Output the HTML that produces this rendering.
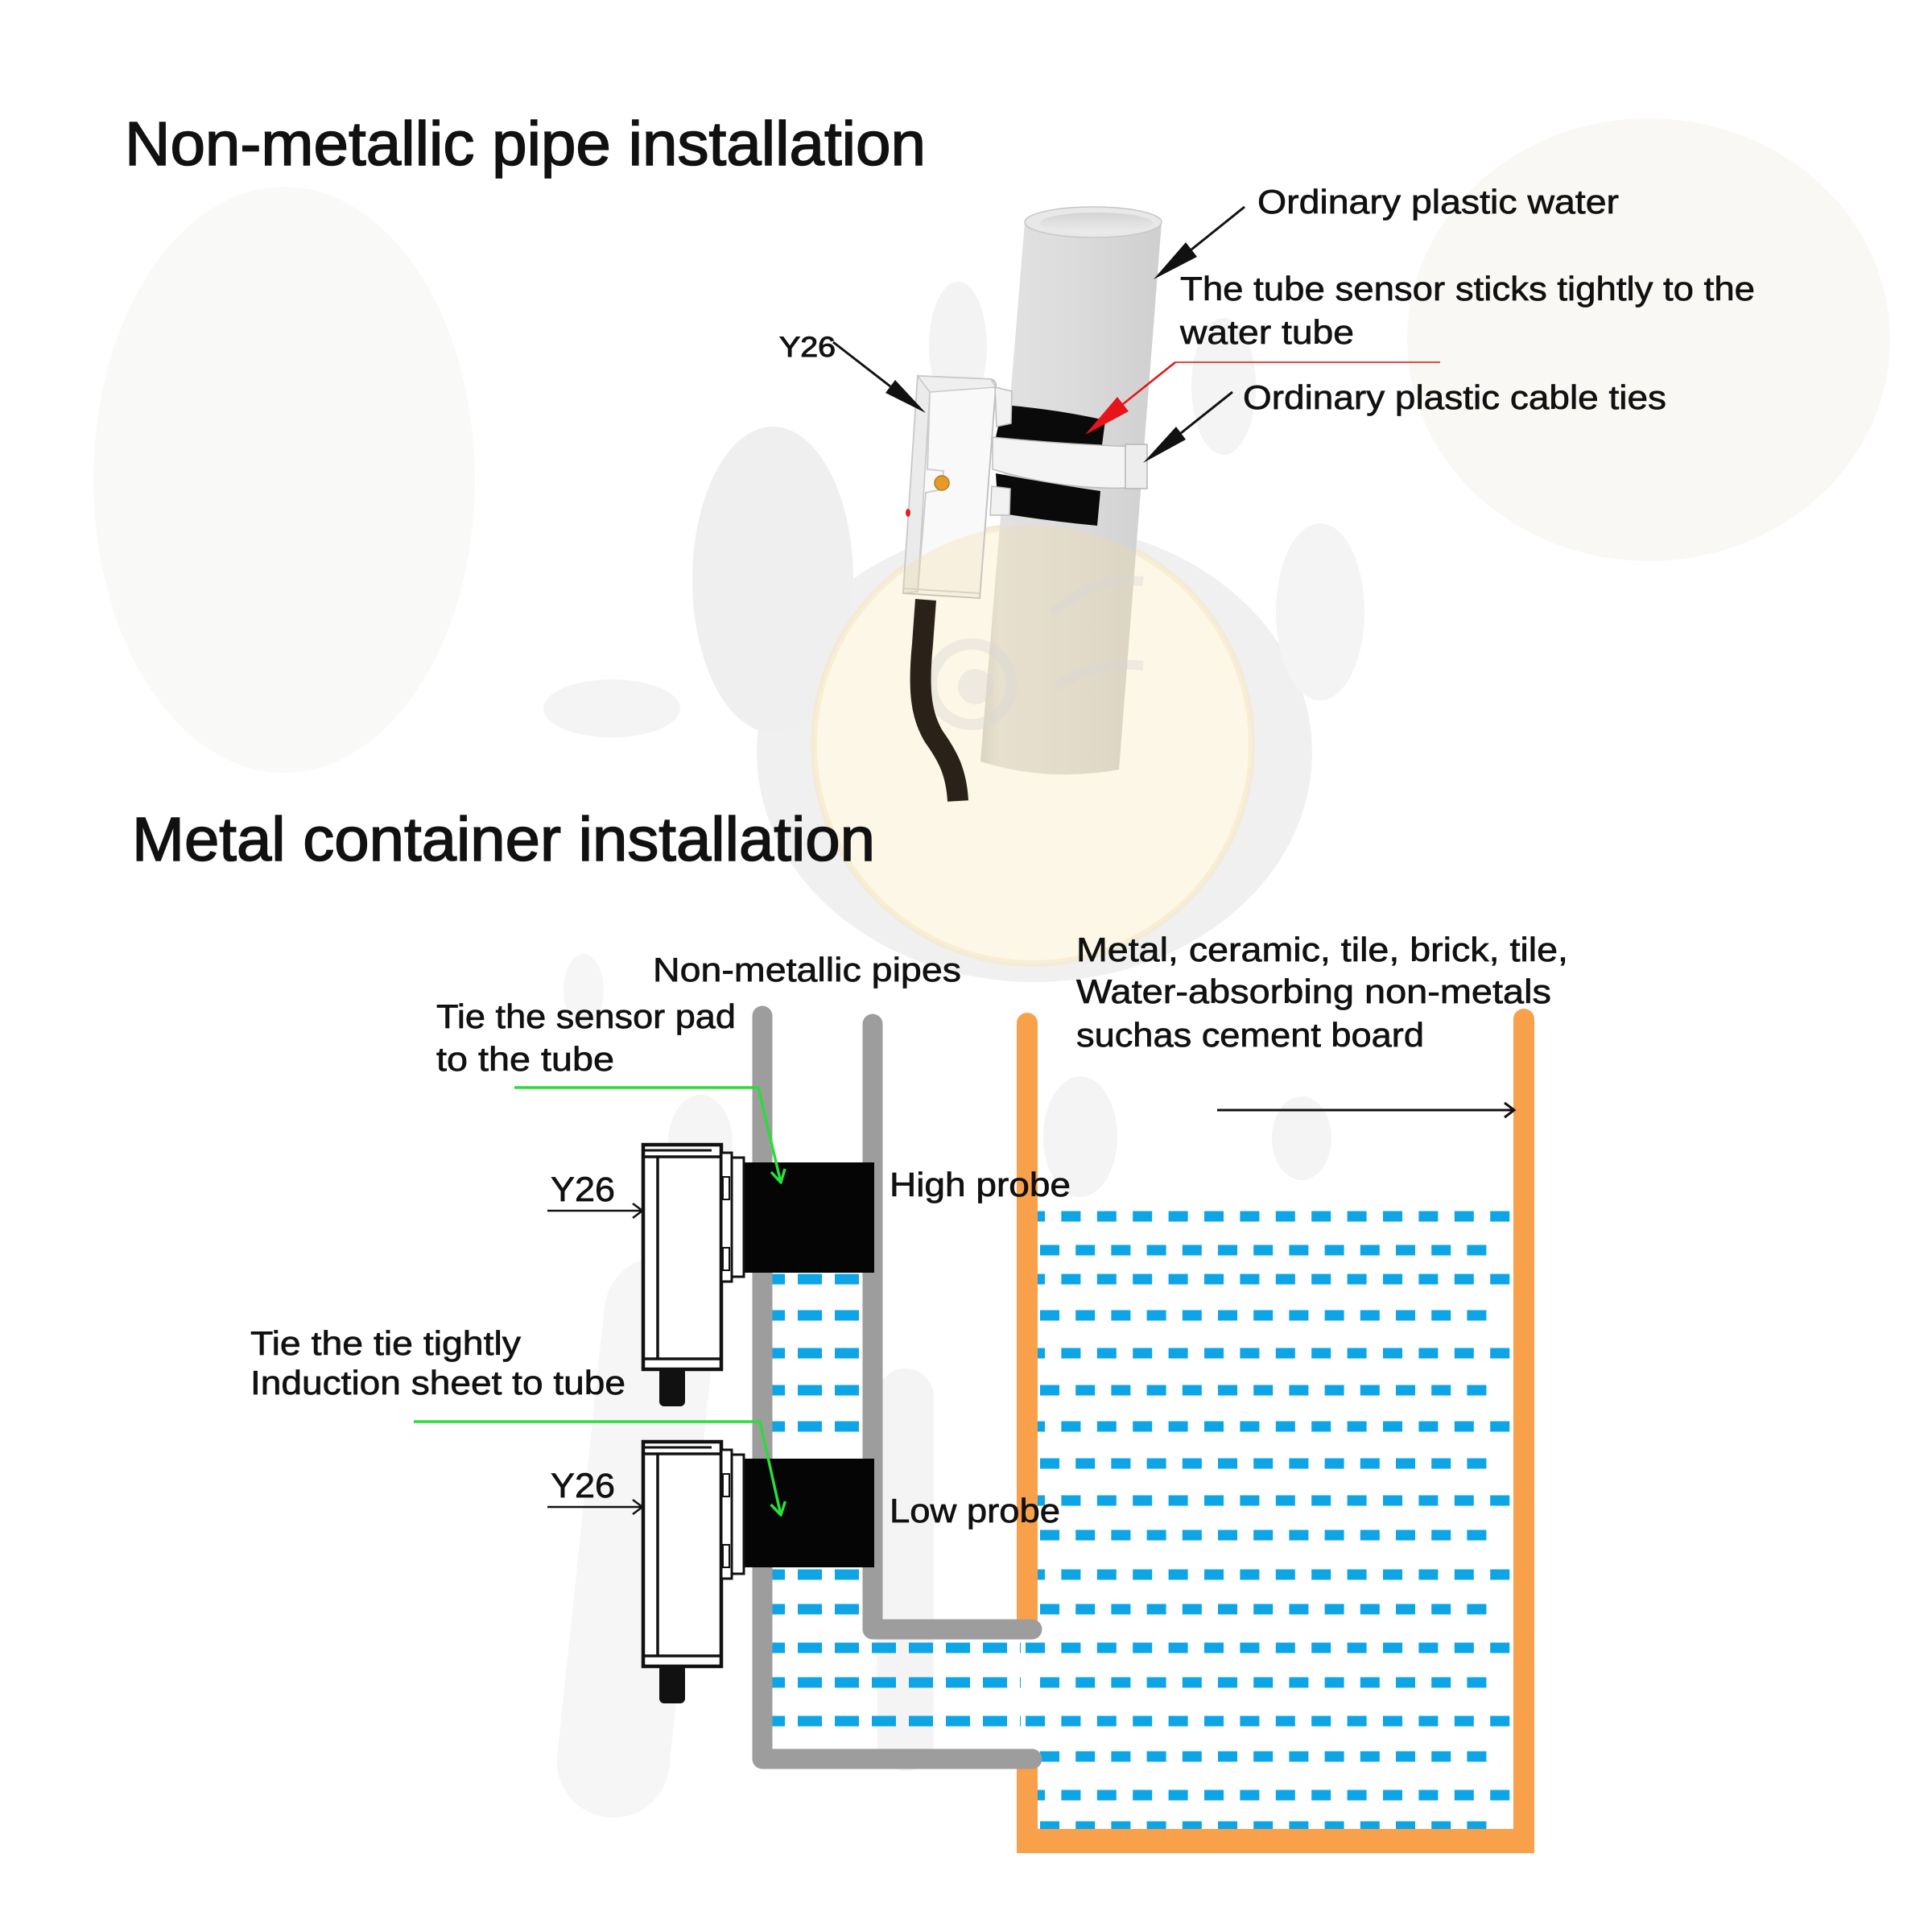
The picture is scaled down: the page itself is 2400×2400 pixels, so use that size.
<!DOCTYPE html>
<html><head><meta charset="utf-8">
<style>
html,body{margin:0;padding:0;background:#fff;}
svg{display:block;}
text{font-family:"Liberation Sans",sans-serif;fill:#111;stroke:#111;stroke-width:0.7;}
text.h{stroke-width:1.6;}
</style></head><body>
<svg width="2400" height="2400" viewBox="0 0 2400 2400" xmlns="http://www.w3.org/2000/svg">
<defs>
 <linearGradient id="pipeG" x1="0" y1="0" x2="1" y2="0">
  <stop offset="0" stop-color="#d2d2d2"/>
  <stop offset="0.1" stop-color="#e2e2e2"/>
  <stop offset="0.5" stop-color="#dcdcdc"/>
  <stop offset="1" stop-color="#cfcfcf"/>
 </linearGradient>
 <linearGradient id="holeG" x1="0" y1="0" x2="0" y2="1">
  <stop offset="0" stop-color="#d4d4d4"/>
  <stop offset="1" stop-color="#ececec"/>
 </linearGradient>
 <clipPath id="objClip">
  <path d="M1273,276 L1218,946 Q1300,972 1390,956 L1443,276 Z"/>
  <path d="M1140,467 L1231,471 Q1238,473 1237,481 L1217,743 L1122,737 Z"/>
 </clipPath>
</defs>
<rect width="2400" height="2400" fill="#fff"/>

<!-- faint watermark background -->
<ellipse cx="353" cy="596" rx="237" ry="364" fill="#f9f9f7"/>
<ellipse cx="2048" cy="422" rx="300" ry="275" fill="#f9f8f5"/>
<ellipse cx="1285" cy="935" rx="345" ry="285" fill="#f0f0f0"/>
<ellipse cx="960" cy="720" rx="100" ry="190" fill="#efefef"/>
<ellipse cx="760" cy="880" rx="85" ry="36" fill="#f4f4f4"/>
<ellipse cx="1190" cy="430" rx="36" ry="80" fill="#f3f3f3"/>
<ellipse cx="1520" cy="480" rx="40" ry="85" fill="#f4f4f4"/>
<ellipse cx="1640" cy="760" rx="55" ry="110" fill="#f4f4f4"/>
<rect x="720" y="1560" width="140" height="700" rx="70" fill="#f6f6f6" transform="rotate(6 795 1920)"/>
<rect x="1090" y="1700" width="70" height="500" rx="35" fill="#f4f4f4"/>
<ellipse cx="1342" cy="1412" rx="46" ry="75" fill="#f4f4f4"/>
<ellipse cx="1617" cy="1414" rx="37" ry="52" fill="#f4f4f4"/>
<ellipse cx="870" cy="1420" rx="40" ry="60" fill="#f5f5f5"/>
<ellipse cx="725" cy="1230" rx="25" ry="45" fill="#f6f6f6"/>
<!-- cream circle -->
<circle cx="1283" cy="925" r="272" fill="#fdf7e7"/>
<circle cx="1283" cy="925" r="272" fill="none" stroke="#f6e6c0" stroke-width="8" opacity="0.5"/>

<!-- ===== Top: pipe photo ===== -->
<path d="M1273,276 L1218,946 Q1300,972 1390,956 L1443,276 Z" fill="url(#pipeG)"/>
<ellipse cx="1358" cy="276" rx="85" ry="19" fill="#e8e8e8" stroke="#c6c6c6" stroke-width="1.5"/>
<ellipse cx="1362" cy="277" rx="70" ry="13" fill="url(#holeG)"/>
<path d="M1246,503 Q1310,508 1373,522 L1367,568 Q1300,556 1237,543 Z" fill="#0a0a0a"/>
<path d="M1233,543 Q1330,553 1420,555 L1420,605 Q1330,612 1233,583 Z" fill="#f4f4f4" stroke="#bdbdbd" stroke-width="1.5"/>
<rect x="1398" y="552" width="27" height="55" fill="#ededed" stroke="#b5b5b5" stroke-width="1.5"/>
<path d="M1237,588 Q1300,600 1367,610 L1363,653 Q1300,647 1240,637 Z" fill="#0a0a0a"/>
<!-- device -->
<path d="M1140,467 L1231,471 Q1238,473 1237,481 L1217,743 L1122,737 Z" fill="#f9f9f9" stroke="#c2c2c2" stroke-width="2"/>
<path d="M1140,467 L1155,487 L1140,735 L1122,737 Z" fill="#ebebeb" stroke="#c8c8c8" stroke-width="1.5"/>
<path d="M1140,467 L1231,471 L1237,481 L1155,487 Z" fill="#efefef" stroke="#c8c8c8" stroke-width="1.5"/>
<polyline points="1155,487 1152,583 1172,585 1170,608 1150,612 1140,735" fill="none" stroke="#cdcdcd" stroke-width="2"/>
<line x1="1122" y1="731" x2="1217" y2="737" stroke="#cfcfcf" stroke-width="2"/>
<polygon points="1236,481 1257,486 1256,526 1238,530" fill="#f2f2f2" stroke="#bdbdbd" stroke-width="1.5"/>
<polygon points="1232,604 1255,607 1254,640 1230,640" fill="#f2f2f2" stroke="#bdbdbd" stroke-width="1.5"/>
<circle cx="1170" cy="600" r="9" fill="#e59a2a" stroke="#b87a20" stroke-width="1.5"/>
<ellipse cx="1128" cy="637" rx="3" ry="5" fill="#e02020"/>

<!-- cream overlay tint on pipe/device only -->
<g clip-path="url(#objClip)">
 <circle cx="1283" cy="925" r="272" fill="#f6dc9c" opacity="0.28"/>
</g>
<!-- faint mascot features -->
<circle cx="1207" cy="850" r="50" fill="none" stroke="#d6d6d6" stroke-width="14" opacity="0.4"/>
<circle cx="1212" cy="853" r="22" fill="#d6d6d6" opacity="0.4"/>
<path d="M1307,762 Q1360,715 1420,722" fill="none" stroke="#d6d6d6" stroke-width="12" opacity="0.4"/>
<path d="M1313,853 Q1360,820 1420,827" fill="none" stroke="#d6d6d6" stroke-width="12" opacity="0.4"/>

<!-- cable -->
<path d="M1150,745 L1146,800 C1140,860 1145,890 1160,915 C1178,940 1188,960 1190,995" fill="none" stroke="#2a2218" stroke-width="26"/>

<!-- arrows top -->
<line x1="1546" y1="257" x2="1480" y2="310" stroke="#111" stroke-width="3"/>
<polygon points="1433,347 1487,319 1473,301" fill="#111"/>
<line x1="1035" y1="425" x2="1106" y2="480" stroke="#111" stroke-width="3"/>
<polygon points="1150,513 1100,488 1112,472" fill="#111"/>
<line x1="1531" y1="487" x2="1467" y2="538" stroke="#111" stroke-width="3"/>
<polygon points="1420,575 1473,546 1461,530" fill="#111"/>
<line x1="1789" y1="450" x2="1460" y2="450" stroke="#e04848" stroke-width="2"/>
<line x1="1460" y1="450" x2="1395" y2="502" stroke="#e3151b" stroke-width="2.5"/>
<polygon points="1348,540 1402,511 1388,493" fill="#e8141b"/>

<!-- top texts -->
<text class="h" x="155" y="205" font-size="77" textLength="995" lengthAdjust="spacingAndGlyphs">Non-metallic pipe installation</text>
<text x="1562" y="265" font-size="42" textLength="449" lengthAdjust="spacingAndGlyphs">Ordinary plastic water</text>
<text x="1466" y="373" font-size="42" textLength="714" lengthAdjust="spacingAndGlyphs">The tube sensor sticks tightly to the</text>
<text x="1466" y="427" font-size="42" textLength="216" lengthAdjust="spacingAndGlyphs">water tube</text>
<text x="1544" y="508" font-size="42" textLength="526" lengthAdjust="spacingAndGlyphs">Ordinary plastic cable ties</text>
<text x="968" y="443" font-size="35" textLength="70" lengthAdjust="spacingAndGlyphs" style="stroke-width:1">Y26</text>

<text class="h" x="164" y="1069" font-size="77" textLength="923" lengthAdjust="spacingAndGlyphs">Metal container installation</text>

<!-- ===== Bottom diagram ===== -->
<g stroke="#0ea5e6" stroke-width="13" fill="none">
 <line x1="1274" y1="1511" x2="1876" y2="1511" stroke-dasharray="24 20.4"/>
 <line x1="1292" y1="1553" x2="1848" y2="1553" stroke-dasharray="24 20.2"/>
 <line x1="1274" y1="1589" x2="1876" y2="1589" stroke-dasharray="24 20.4"/>
 <line x1="1292" y1="1634" x2="1848" y2="1634" stroke-dasharray="24 20.2"/>
 <line x1="1274" y1="1681" x2="1876" y2="1681" stroke-dasharray="24 20.4"/>
 <line x1="1292" y1="1727" x2="1848" y2="1727" stroke-dasharray="24 20.2"/>
 <line x1="1274" y1="1772" x2="1876" y2="1772" stroke-dasharray="24 20.4"/>
 <line x1="1292" y1="1818" x2="1848" y2="1818" stroke-dasharray="24 20.2"/>
 <line x1="1274" y1="1864" x2="1876" y2="1864" stroke-dasharray="24 20.4"/>
 <line x1="1292" y1="1907" x2="1848" y2="1907" stroke-dasharray="24 20.2"/>
 <line x1="1274" y1="1956" x2="1876" y2="1956" stroke-dasharray="24 20.4"/>
 <line x1="1292" y1="1999" x2="1848" y2="1999" stroke-dasharray="24 20.2"/>
 <line x1="1274" y1="2047" x2="1876" y2="2047" stroke-dasharray="24 20.4"/>
 <line x1="1292" y1="2090" x2="1848" y2="2090" stroke-dasharray="24 20.2"/>
 <line x1="1274" y1="2138" x2="1876" y2="2138" stroke-dasharray="24 20.4"/>
 <line x1="1292" y1="2182" x2="1848" y2="2182" stroke-dasharray="24 20.2"/>
 <line x1="1274" y1="2230" x2="1876" y2="2230" stroke-dasharray="24 20.4"/>
 <line x1="1292" y1="2269" x2="1848" y2="2269" stroke-dasharray="24 20.2"/>
 <line x1="945" y1="1589" x2="1075" y2="1589" stroke-dasharray="30 16"/>
 <line x1="945" y1="1634" x2="1075" y2="1634" stroke-dasharray="30 16"/>
 <line x1="945" y1="1681" x2="1075" y2="1681" stroke-dasharray="30 16"/>
 <line x1="945" y1="1727" x2="1075" y2="1727" stroke-dasharray="30 16"/>
 <line x1="945" y1="1772" x2="1075" y2="1772" stroke-dasharray="30 16"/>
 <line x1="945" y1="1956" x2="1075" y2="1956" stroke-dasharray="30 16"/>
 <line x1="945" y1="1999" x2="1075" y2="1999" stroke-dasharray="30 16"/>
 <line x1="945" y1="2047" x2="1268" y2="2047" stroke-dasharray="30 16"/>
 <line x1="945" y1="2090" x2="1268" y2="2090" stroke-dasharray="30 16"/>
 <line x1="945" y1="2138" x2="1268" y2="2138" stroke-dasharray="30 16"/>
</g>

<!-- orange container -->
<g fill="#f9a04b" stroke="none">
 <line x1="1276" y1="1271" x2="1276" y2="2020" stroke="#f9a04b" stroke-width="26" stroke-linecap="round"/>
 <rect x="1263" y="2190" width="26" height="112"/>
 <rect x="1263" y="2272" width="643" height="30"/>
 <line x1="1893" y1="1266" x2="1893" y2="2285" stroke="#f9a04b" stroke-width="26" stroke-linecap="round"/>
 <rect x="1880" y="2260" width="26" height="42" rx="4"/>
</g>

<!-- gray pipes -->
<path d="M947,1262 L947,2185 L1282,2185" fill="none" stroke="#9d9d9d" stroke-width="25" stroke-linecap="round" stroke-linejoin="round"/>
<path d="M1084,1272 L1084,2024 L1282,2024" fill="none" stroke="#9d9d9d" stroke-width="25" stroke-linecap="round" stroke-linejoin="round"/>

<!-- probes / pads -->
<rect x="924" y="1444" width="162" height="137" fill="#050505"/>
<rect x="924" y="1812" width="162" height="135" fill="#050505"/>

<!-- sensor boxes -->
<g stroke="#111" fill="#fff">
 <rect x="799" y="1422" width="97" height="279" stroke-width="4.5"/>
 <line x1="817" y1="1436" x2="817" y2="1689" stroke-width="3.5"/>
 <line x1="799" y1="1429" x2="884" y2="1429" stroke-width="3"/>
 <line x1="799" y1="1437" x2="896" y2="1437" stroke-width="3.5"/>
 <line x1="799" y1="1688" x2="896" y2="1688" stroke-width="3.5"/>
 <rect x="896" y="1432" width="13" height="160" stroke-width="3"/>
 <rect x="909" y="1438" width="15" height="148" stroke-width="3"/>
 <rect x="898" y="1462" width="8" height="28" stroke-width="2"/>
 <rect x="898" y="1550" width="8" height="28" stroke-width="2"/>
 <rect x="819" y="1699" width="32" height="48" rx="6" fill="#111" stroke="none"/>
</g>
<g stroke="#111" fill="#fff">
 <rect x="799" y="1791" width="97" height="279" stroke-width="4.5"/>
 <line x1="817" y1="1805" x2="817" y2="2058" stroke-width="3.5"/>
 <line x1="799" y1="1798" x2="884" y2="1798" stroke-width="3"/>
 <line x1="799" y1="1806" x2="896" y2="1806" stroke-width="3.5"/>
 <line x1="799" y1="2057" x2="896" y2="2057" stroke-width="3.5"/>
 <rect x="896" y="1801" width="13" height="160" stroke-width="3"/>
 <rect x="909" y="1807" width="15" height="148" stroke-width="3"/>
 <rect x="898" y="1831" width="8" height="28" stroke-width="2"/>
 <rect x="898" y="1919" width="8" height="28" stroke-width="2"/>
 <rect x="819" y="2068" width="32" height="48" rx="6" fill="#111" stroke="none"/>
</g>

<!-- Y26 arrows -->
<g stroke="#111" stroke-width="2.5" fill="none">
 <line x1="680" y1="1504" x2="797" y2="1504"/>
 <polyline points="786,1495 798,1504 786,1513"/>
 <line x1="680" y1="1872" x2="797" y2="1872"/>
 <polyline points="786,1863 798,1872 786,1881"/>
 <line x1="1512" y1="1379" x2="1880" y2="1379" stroke-width="3"/>
 <polyline points="1869,1370 1881,1379 1869,1388" stroke-width="3"/>
</g>

<!-- green leaders -->
<g stroke="#2cdc3a" stroke-width="3.5" fill="none" stroke-linejoin="round">
 <polyline points="639,1351 942,1351 970,1469"/>
 <polyline points="958,1456 970,1469 975,1452"/>
 <polyline points="514,1766 944,1766 970,1882"/>
 <polyline points="957.6,1869 970,1882 975.4,1865"/>
</g>

<!-- bottom texts -->
<text x="811" y="1219" font-size="42" textLength="383" lengthAdjust="spacingAndGlyphs">Non-metallic pipes</text>
<text x="542" y="1277" font-size="42" textLength="372" lengthAdjust="spacingAndGlyphs">Tie the sensor pad</text>
<text x="542" y="1330" font-size="42" textLength="221" lengthAdjust="spacingAndGlyphs">to the tube</text>
<text x="684" y="1492" font-size="43" textLength="80" lengthAdjust="spacingAndGlyphs">Y26</text>
<text x="1105" y="1486" font-size="42" textLength="225" lengthAdjust="spacingAndGlyphs">High probe</text>
<text x="311" y="1683" font-size="42" textLength="336" lengthAdjust="spacingAndGlyphs">Tie the tie tightly</text>
<text x="311" y="1732" font-size="42" textLength="466" lengthAdjust="spacingAndGlyphs">Induction sheet to tube</text>
<text x="684" y="1860" font-size="43" textLength="80" lengthAdjust="spacingAndGlyphs">Y26</text>
<text x="1105" y="1891" font-size="42" textLength="212" lengthAdjust="spacingAndGlyphs">Low probe</text>
<text x="1337" y="1194" font-size="42" textLength="611" lengthAdjust="spacingAndGlyphs">Metal, ceramic, tile, brick, tile,</text>
<text x="1337" y="1246" font-size="42" textLength="590" lengthAdjust="spacingAndGlyphs">Water-absorbing non-metals</text>
<text x="1337" y="1300" font-size="42" textLength="432" lengthAdjust="spacingAndGlyphs">suchas cement board</text>
</svg>
</body></html>
